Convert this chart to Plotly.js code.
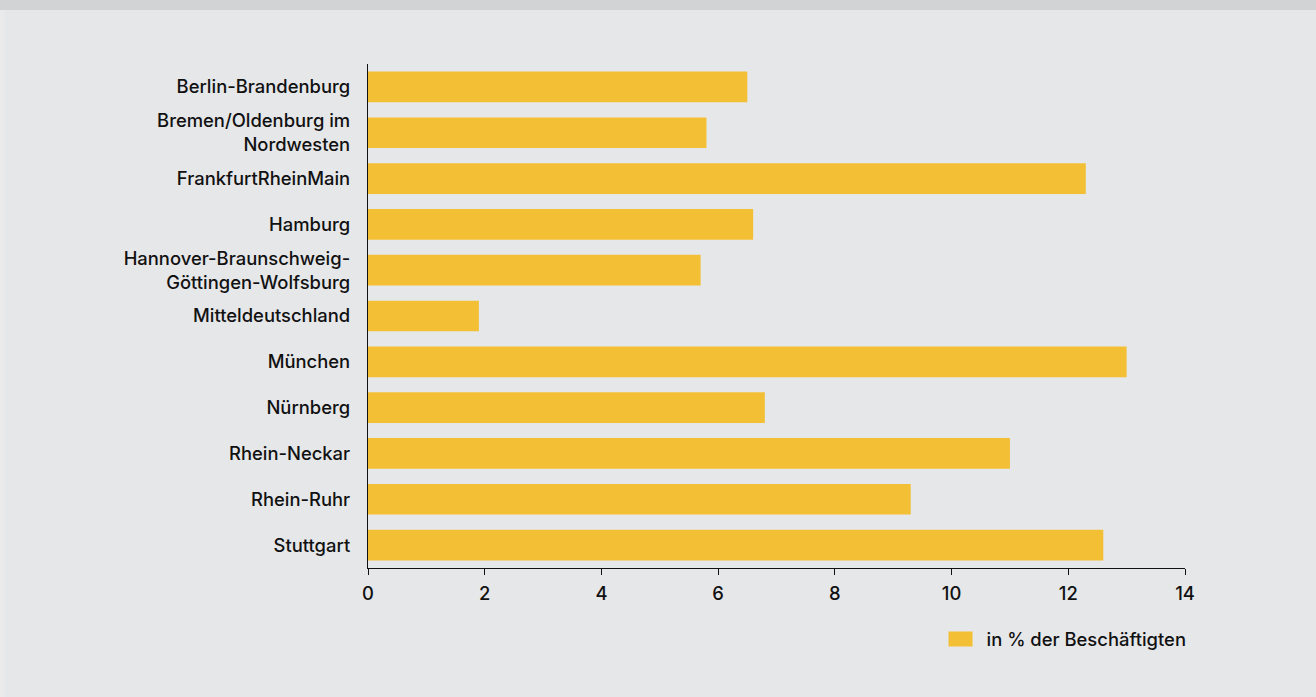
<!DOCTYPE html>
<html>
<head>
<meta charset="utf-8">
<script src="https://cdn.plot.ly/plotly-3.0.1.min.js"></script>
<style>
html,body{margin:0;padding:0;background:#e6e7e9;}
#chart{width:1316px;height:697px;}
</style>
</head>
<body>
<div id="chart"></div>
<script>
const regions = [
  "Berlin-Brandenburg",
  "Bremen/Oldenburg im<br>Nordwesten",
  "FrankfurtRheinMain",
  "Hamburg",
  "Hannover-Braunschweig-<br>Göttingen-Wolfsburg",
  "Mitteldeutschland",
  "München",
  "Nürnberg",
  "Rhein-Neckar",
  "Rhein-Ruhr",
  "Stuttgart"
];
const shareValues = [6.5, 5.8, 12.3, 6.6, 5.7, 1.9, 13.0, 6.8, 11.0, 9.3, 12.6];
const seriesName = "in % der Beschäftigten";
const xTicks = [0, 2, 4, 6, 8, 10, 12, 14];

const fontFamily = "Inter, 'Liberation Sans', Arial, sans-serif";
const txtFont = {family: fontFamily, size: 18.4, color: "#111111", weight: 500};

const trace = {
  type: "bar",
  orientation: "h",
  y: regions,
  x: shareValues,
  name: seriesName,
  marker: {color: "#f3c035", line: {width: 0}},
  showlegend: true,
  hoverinfo: "x+y"
};

const layout = {
  width: 1316,
  height: 697,
  paper_bgcolor: "#e6e7e9",
  plot_bgcolor: "#e6e7e9",
  margin: {l: 368, r: 131, t: 64, b: 129, pad: 0},
  font: txtFont,
  bargap: 0.33,
  showlegend: true,
  xaxis: {
    range: [0, 14],
    tickvals: xTicks,
    ticktext: xTicks.map(String),
    showgrid: false,
    zeroline: false,
    showline: true,
    linecolor: "#111111",
    linewidth: 1.3,
    ticks: "outside",
    ticklen: 6,
    tickwidth: 1.3,
    tickcolor: "#111111",
    ticklabelstandoff: 3,
    tickfont: txtFont,
    fixedrange: true
  },
  yaxis: {
    autorange: "reversed",
    type: "category",
    showgrid: false,
    zeroline: false,
    showline: true,
    linecolor: "#111111",
    linewidth: 1.3,
    ticks: "",
    ticklabelstandoff: 13,
    tickfont: txtFont,
    fixedrange: true
  },
  legend: {
    orientation: "h",
    x: 1.008,
    xanchor: "right",
    y: -0.141,
    yanchor: "middle",
    bgcolor: "rgba(0,0,0,0)",
    font: txtFont
  },
  shapes: [
    {type: "rect", xref: "paper", yref: "paper", x0: -0.46, x1: 1.17, y0: 1.1071, y1: 1.13, fillcolor: "#d2d3d5", line: {width: 0}, layer: "below"},
    {type: "rect", xref: "paper", yref: "paper", x0: -0.46, x1: -0.4443, y0: -0.27, y1: 1.1071, fillcolor: "#eaeaeb", line: {width: 0}, layer: "below"}
  ]
};

function enlargeLegendSwatch() {
  document.querySelectorAll("#chart .legendpoints path").forEach(function (p) {
    p.setAttribute("d", "M6,7.5H-18V-7.5H6Z");
  });
}

Plotly.newPlot("chart", [trace], layout, {displayModeBar: false}).then(function (gd) {
  enlargeLegendSwatch();
  gd.on("plotly_afterplot", enlargeLegendSwatch);
});
</script>
</body>
</html>
